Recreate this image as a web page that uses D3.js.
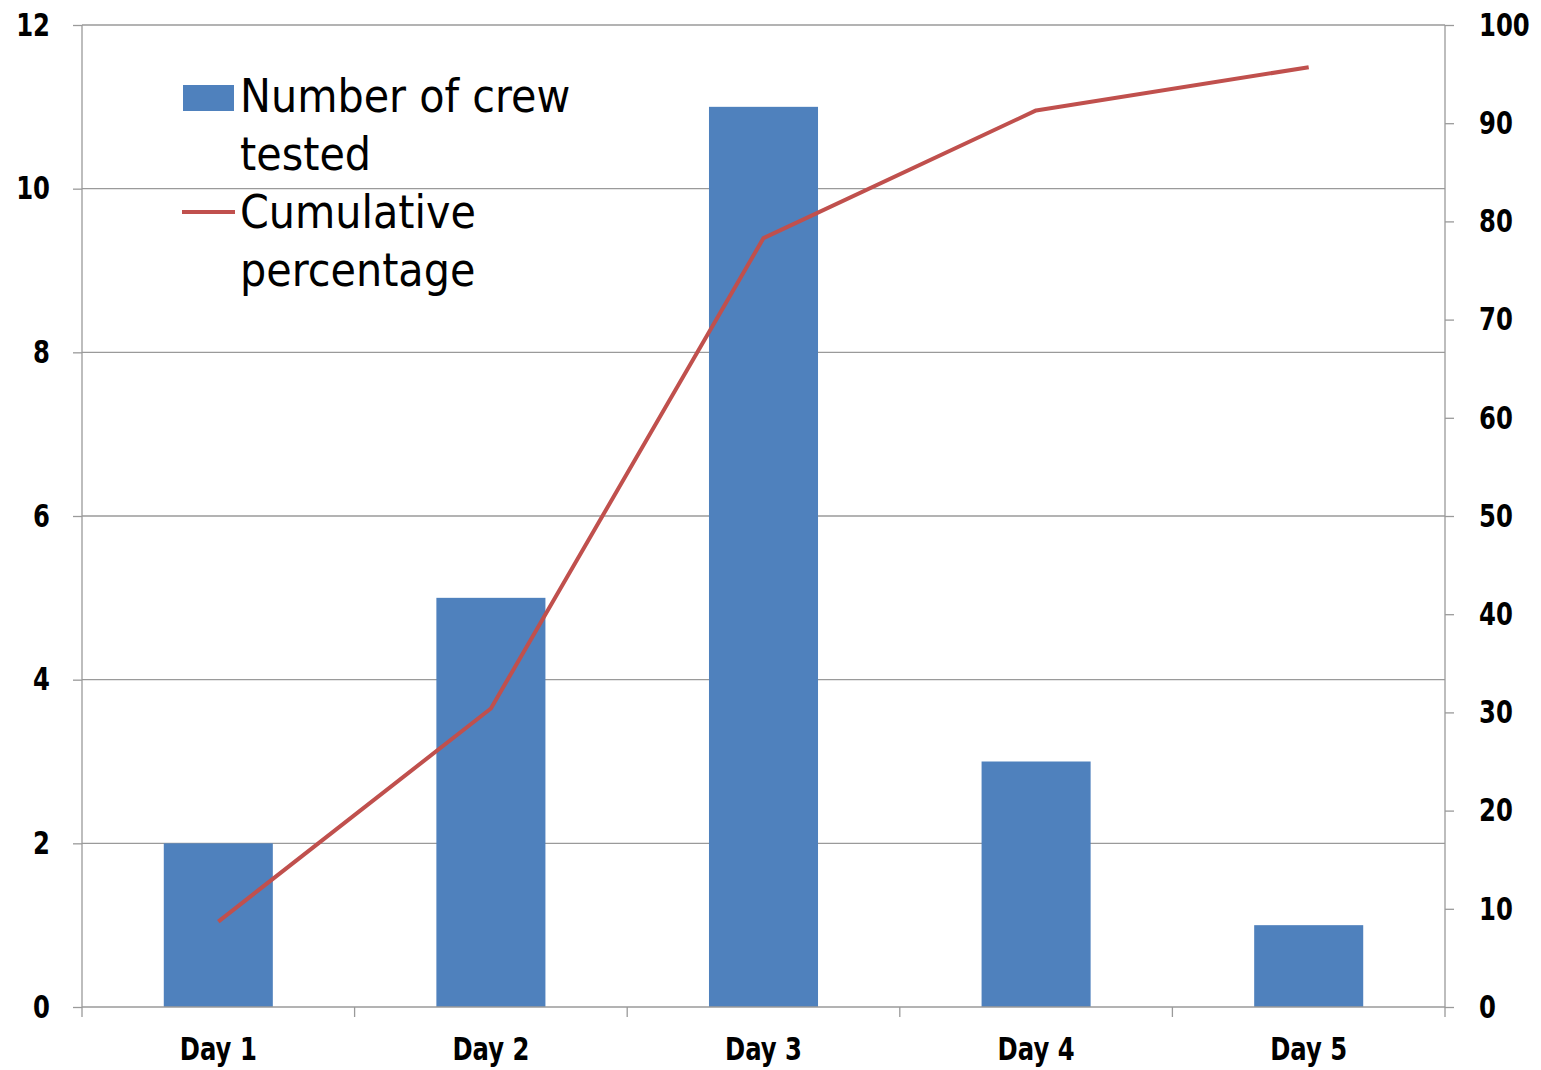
<!DOCTYPE html>
<html><head><meta charset="utf-8">
<script src="https://cdn.jsdelivr.net/npm/d3@7"></script>
<style>
body{margin:0;background:#fff;}
text{font-family:"DejaVu Sans",sans-serif;fill:#000;}
</style></head>
<body><svg id="c" width="1541" height="1070"></svg>
<script>
const categories = ["Day 1","Day 2","Day 3","Day 4","Day 5"];
const crewTested = [2,5,11,3,1];
const cumulativePct = [8.7,30.4,78.3,91.3,95.7];
const leftTicks = [0,2,4,6,8,10,12];
const rightTicks = [0,10,20,30,40,50,60,70,80,90,100];
const legendLabels = [["Number of crew","tested"],["Cumulative","percentage"]];

const svg = d3.select("#c");
const L = 82, R = 1445, T = 25, B = 1007;
const x = d3.scaleBand().domain(categories).range([L,R]).paddingInner(0).paddingOuter(0);
const yL = d3.scaleLinear().domain([0,12]).range([B,T]);
const yR = d3.scaleLinear().domain([0,100]).range([B,T]);
const grid = "#9a9a9a";
const SQ = 0.76;

svg.append("g").selectAll("line").data(leftTicks.filter(d=>d>0)).join("line")
  .attr("x1",L).attr("x2",R).attr("y1",d=>yL(d)).attr("y2",d=>yL(d))
  .attr("stroke",grid).attr("stroke-width",1.3);

const bw = x.bandwidth()*0.4;
svg.append("g").selectAll("rect").data(crewTested).join("rect")
  .attr("x",(d,i)=>x(categories[i])+x.bandwidth()/2-bw/2)
  .attr("width",bw)
  .attr("y",d=>yL(d)).attr("height",d=>B-yL(d))
  .attr("fill","#4F81BD");

const gl = svg.append("g").attr("transform",`translate(${L},0)`)
  .call(d3.axisLeft(yL).tickValues(leftTicks).tickSize(9).tickPadding(23));
const gr = svg.append("g").attr("transform",`translate(${R},0)`)
  .call(d3.axisRight(yR).tickValues(rightTicks).tickSize(9).tickPadding(25));
const gb = svg.append("g").attr("transform",`translate(0,${B})`)
  .call(d3.axisBottom(x).tickSize(0).tickPadding(30));
const bounds = categories.map(c=>x(c)).concat([R]);
svg.append("g").selectAll("line").data(bounds).join("line")
  .attr("x1",d=>d).attr("x2",d=>d).attr("y1",B).attr("y2",B+10)
  .attr("stroke",grid).attr("stroke-width",1.3);

[gl,gr,gb].forEach(g=>{
  g.selectAll(".domain").attr("stroke",grid).attr("stroke-width",1.3);
  g.selectAll(".tick line").attr("stroke",grid).attr("stroke-width",1.3);
  g.selectAll("text").attr("font-size",32).attr("font-weight","bold").attr("fill","#000")
   .style("font-family",'"DejaVu Sans",sans-serif')
   .each(function(){
     const t = d3.select(this);
     const x0 = +(t.attr("x")||0);
     t.attr("x",0).attr("transform",`translate(${x0},0) scale(${SQ},1)`);
   });
});
gl.select(".domain").attr("d",`M0,${T}V${B}`);
gr.select(".domain").attr("d",`M0,${T}V${B}`);
gb.select(".domain").attr("d",`M${L},0H${R}`);
gb.selectAll("text").attr("dy","0.71em");

const line = d3.line().x((d,i)=>x(categories[i])+x.bandwidth()/2).y(d=>yR(d));
svg.append("path").datum(cumulativePct).attr("d",line)
  .attr("fill","none").attr("stroke","#C0504D").attr("stroke-width",4).attr("stroke-linejoin","round");

const lg = svg.append("g");
lg.append("rect").attr("x",183).attr("y",85).attr("width",51).attr("height",26).attr("fill","#4F81BD");
lg.append("line").attr("x1",182).attr("x2",235).attr("y1",212).attr("y2",212)
  .attr("stroke","#C0504D").attr("stroke-width",4);
const baselines = [[112,170],[228,286]];
legendLabels.forEach((lines,i)=>{
  lines.forEach((t,j)=>{
    lg.append("text").attr("x",0).attr("y",0).attr("font-size",47)
      .attr("transform",`translate(240,${baselines[i][j]}) scale(0.88,1)`).text(t);
  });
});
</script></body></html>
